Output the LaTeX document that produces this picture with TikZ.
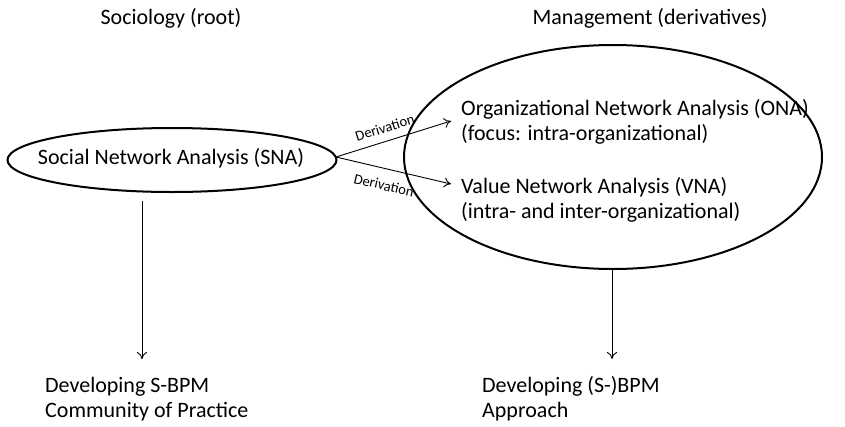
\documentclass[tikz,border=0pt]{standalone}
\usepackage{fontspec}
\setmainfont{Carlito}
\usetikzlibrary{shapes.geometric,arrows.meta}
\begin{document}
\begin{tikzpicture}[x=1pt,y=-1pt,
  lbl/.style={font=\fontsize{22}{25}\selectfont, inner sep=0pt, anchor=base west},
  head/.style={font=\fontsize{22}{25}\selectfont, inner sep=0pt, anchor=base},
  oval/.style={draw, ellipse, line width=2pt, inner sep=0pt},
  link/.style={-{To[length=7pt,width=10pt]}, line width=0.9pt},
  dlbl/.style={font=\fontsize{14.5}{16}\selectfont, inner sep=0pt}]
\useasboundingbox (0,0) rectangle (845,426);

% column headings
\node[head] (hsoc) at (171,24) {Sociology (root)};
\node[head] (hman) at (650,24) {Management (derivatives)};

% root ellipse
\node[oval, minimum width=329pt, minimum height=64pt] (sna) at (172,160) {};
\node[head] (snat) at (171,164) {Social Network Analysis (SNA)};

% derivatives ellipse with its two entries
\node[oval, minimum width=418pt, minimum height=224pt] (mgmt) at (613,157) {};
\node[lbl] (ona1) at (461,115) {Organizational Network Analysis (ONA)};
\node[lbl] (ona2) at (461,140) {(focus: intra-organizational)};
\node[lbl] (vna1) at (461,193) {Value Network Analysis (VNA)};
\node[lbl] (vna2) at (461,218) {(intra- and inter-organizational)};

% outcomes
\node[lbl] (cop1) at (45,392) {Developing S-BPM};
\node[lbl] (cop2) at (45,417) {Community of Practice};
\node[lbl] (bpm1) at (482,392) {Developing (S-)BPM};
\node[lbl] (bpm2) at (482,417) {Approach};

% connector end points
\coordinate (src) at (336,157);
\coordinate (onaIn) at (451,121);
\coordinate (vnaIn) at (451,184);
\coordinate (snaOut) at (142,201);
\coordinate (copIn) at (142,359);
\coordinate (mgmtOut) at (612,269);
\coordinate (bpmIn) at (612,359);

\draw[link] (src) -- node[dlbl, sloped, above=8pt, pos=0.46] {Derivation} (onaIn);
\draw[link] (src) -- node[dlbl, sloped, below=11pt, pos=0.45] {Derivation} (vnaIn);
\draw[link] (snaOut) -- (copIn);
\draw[link] (mgmtOut) -- (bpmIn);
\end{tikzpicture}
\end{document}
